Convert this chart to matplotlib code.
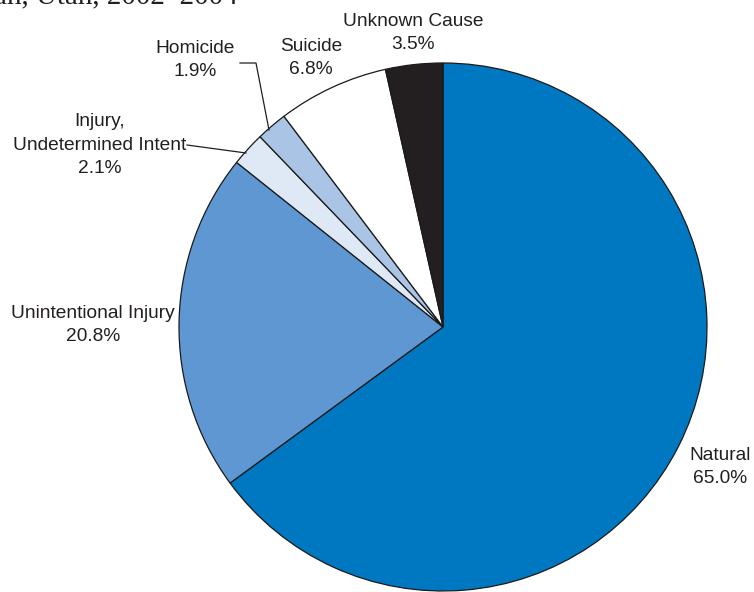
import matplotlib
matplotlib.use("Agg")
import matplotlib.pyplot as plt

categories = ["Natural", "Unintentional Injury", "Injury,\nUndetermined Intent",
              "Homicide", "Suicide", "Unknown Cause"]
values = [65.0, 20.8, 2.1, 1.9, 6.8, 3.5]
colors = ["#0077c1", "#5e97d1", "#dfe8f5", "#aac4e6", "#ffffff", "#231f20"]

W, H = 754, 592
fig = plt.figure(figsize=(W / 100, H / 100), dpi=100)
ax = fig.add_axes([0, 0, 1, 1])

cx, cy, r = 443, H - 327, 264
ax.pie(values, colors=colors, startangle=90, counterclock=False,
       center=(cx, cy), radius=r,
       wedgeprops=dict(edgecolor="#1a1a1a", linewidth=0.9))
ax.set_xlim(0, W)
ax.set_ylim(0, H)
ax.set_aspect("equal")
ax.axis("off")

font = dict(family=["Liberation Sans", "DejaVu Sans"], fontsize=13.8,
            color="#231f20", linespacing=1.5)

def lab(x, y, txt, ha="center"):
    ax.text(x, H - y, txt, ha=ha, va="center", **font)

lab(720, 467, f"{categories[0]}\n{values[0]:.1f}%")
lab(93, 325, f"{categories[1]}\n{values[1]:.1f}%")
lab(100, 145, f"{categories[2]}\n{values[2]:.1f}%")
lab(195, 60, f"{categories[3]}\n{values[3]:.1f}%")
lab(311, 58, f"{categories[4]}\n{values[4]:.1f}%")
lab(413, 33, f"{categories[5]}\n{values[5]:.1f}%")

# leader lines
ax.plot([187, 246], [H - 145, H - 153], color="#231f20", lw=0.9)
ax.plot([240, 256, 269], [H - 63, H - 63, H - 130], color="#231f20", lw=0.9)

# clipped title at top
ax.text(-6, H - 3, "ah, Utah, 2002\u20132004", ha="left", va="baseline",
        family=["Liberation Serif", "DejaVu Serif"], fontsize=21, color="#231f20")

fig.savefig("out.png", dpi=100)
